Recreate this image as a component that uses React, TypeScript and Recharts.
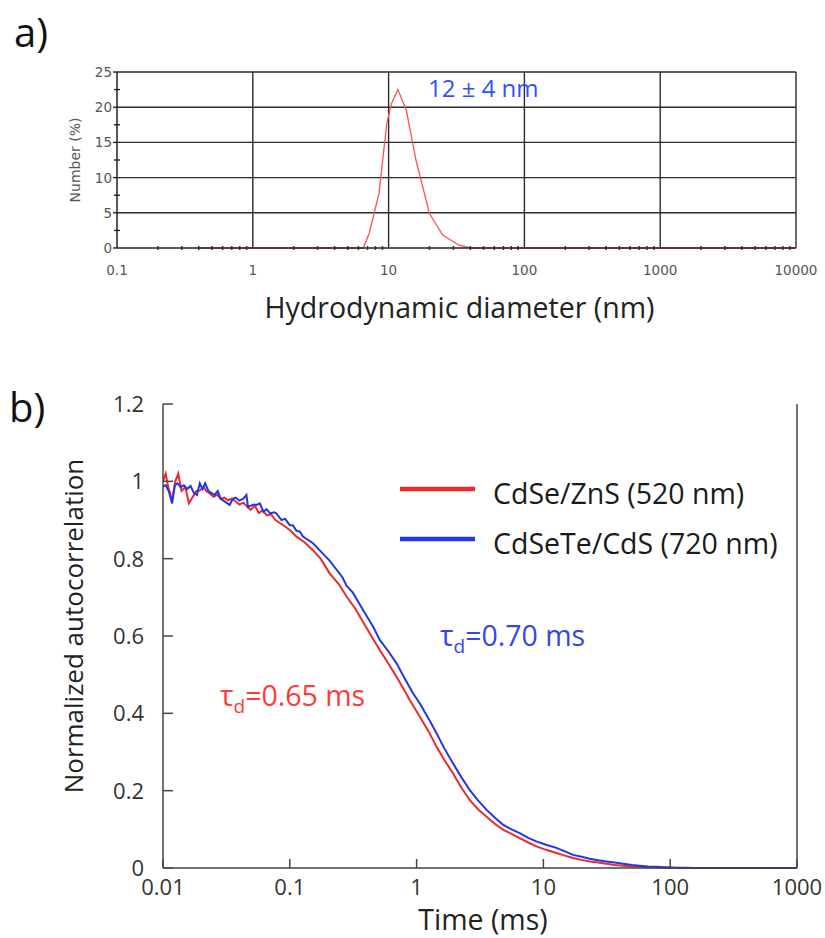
import React from 'react';
import { LineChart, Line, XAxis, YAxis, ReferenceLine, Legend } from 'recharts';

// ---------- Panel a) : DLS size distribution ----------
const sizeDiameters = [0.4, 6.5, 7.2, 8.5, 9.7, 10.5, 11.7, 13.5, 15.9, 20, 25, 33, 40, 10000];
const sizeNumbers = [0, 0, 2.1, 7.8, 17.7, 20.5, 22.5, 19.6, 12.5, 4.9, 1.85, 0.4, 0, 0];
const diamDecades = [0.1, 1, 10, 100, 1000, 10000];
const diamLabels = ['0.1', '1', '10', '100', '1000', '10000'];
const minorMultipliers = [2, 3, 4, 5, 6, 7, 8, 9];
const numberTicks = [0, 2.5, 5, 7.5, 10, 12.5, 15, 17.5, 20, 22.5, 25];
const numberMajor = [0, 5, 10, 15, 20, 25];
const numberGrid = [5, 10, 15, 20, 25];
const diamGrid = [1, 10, 100, 1000, 10000];

// ---------- Panel b) : FCS autocorrelation ----------
const redTimes = [
  0.01, 0.0105, 0.011, 0.0118, 0.0125, 0.0132, 0.014, 0.015, 0.016, 0.0172, 0.0183, 0.0195,
  0.0208, 0.022, 0.0235, 0.025, 0.0268, 0.0285, 0.0305, 0.0325, 0.035, 0.0375, 0.04, 0.043,
  0.046, 0.049, 0.053, 0.057, 0.061, 0.066, 0.071, 0.077, 0.083, 0.09, 0.1, 0.113, 0.13,
  0.152, 0.175, 0.206, 0.245, 0.28, 0.33, 0.378, 0.44, 0.512, 0.6, 0.693, 0.8, 0.88, 1.058,
  1.25, 1.433, 1.65, 1.936, 2.25, 2.62, 3.05, 3.55, 4.15, 4.8, 5.6, 6.5, 7.6, 8.8, 10.5,
  12.65, 14.8, 17.1, 20, 23.2, 27, 31.4, 36.5, 42.5, 50, 57.5, 67, 78, 100, 130, 1000,
];
const redValues = [
  1.0, 1.02, 0.985, 0.95, 1.0, 1.02, 0.975, 0.985, 0.943, 0.96, 0.975, 0.976,
  0.986, 0.975, 0.968, 0.96, 0.965, 0.955, 0.958, 0.951, 0.955, 0.948, 0.94, 0.945,
  0.935, 0.926, 0.937, 0.918, 0.925, 0.912, 0.915, 0.9, 0.893, 0.885, 0.874, 0.857, 0.843,
  0.822, 0.8, 0.762, 0.733, 0.702, 0.67, 0.636, 0.6, 0.564, 0.528, 0.495, 0.46, 0.435, 0.392,
  0.352, 0.314, 0.28, 0.245, 0.208, 0.176, 0.152, 0.133, 0.114, 0.099, 0.088, 0.077, 0.066, 0.056, 0.047,
  0.039, 0.032, 0.026, 0.021, 0.017, 0.014, 0.011, 0.008, 0.006, 0.004, 0.003, 0.002, 0.001, 0.0005, 0, 0,
];
const blueTimes = [
  0.01, 0.0105, 0.0111, 0.0118, 0.0124, 0.013, 0.0138, 0.0146, 0.0155, 0.0165, 0.0175, 0.0185,
  0.0195, 0.0205, 0.0215, 0.0228, 0.024, 0.0255, 0.027, 0.0285, 0.03, 0.0316, 0.0336, 0.0355,
  0.0375, 0.04, 0.043, 0.0455, 0.0468, 0.052, 0.0546, 0.058, 0.062, 0.0654, 0.07, 0.075, 0.0784,
  0.0859, 0.092, 0.0998, 0.106, 0.113, 0.12, 0.127, 0.1524, 0.18, 0.206, 0.26, 0.28, 0.3144, 0.378,
  0.4526, 0.512, 0.6, 0.693, 0.8, 0.937, 1.058, 1.25, 1.433, 1.65, 1.936, 2.25, 2.62, 3.05, 3.55,
  4.15, 4.8, 5.6, 6.5, 7.6, 8.8, 10.5, 12.65, 14.8, 17.1, 20, 23.2, 27, 31.4, 36.5, 42.5, 50,
  57.5, 67, 78, 90, 105, 130, 160, 1000,
];
const blueValues = [
  0.986, 0.99, 0.975, 0.943, 0.99, 0.995, 0.985, 0.99, 0.98, 0.988, 0.97, 0.965,
  0.995, 0.98, 0.995, 0.975, 0.97, 0.965, 0.975, 0.955, 0.95, 0.945, 0.939, 0.955,
  0.958, 0.95, 0.955, 0.965, 0.934, 0.94, 0.939, 0.943, 0.921, 0.928, 0.917, 0.92, 0.917,
  0.9, 0.903, 0.887, 0.886, 0.872, 0.87, 0.857, 0.84, 0.815, 0.795, 0.752, 0.73, 0.712, 0.667,
  0.625, 0.59, 0.56, 0.53, 0.492, 0.452, 0.426, 0.385, 0.349, 0.31, 0.271, 0.235, 0.202, 0.175, 0.151,
  0.13, 0.112, 0.1, 0.09, 0.078, 0.069, 0.06, 0.052, 0.043, 0.034, 0.029, 0.024, 0.02, 0.017, 0.014, 0.011, 0.008,
  0.006, 0.004, 0.003, 0.002, 0.001, 0.0005, 0, 0,
];
const timeTicks = [0.01, 0.1, 1, 10, 100, 1000];
const timeLabels = ['0.01', '0.1', '1', '10', '100', '1000'];
const corrTicks = [0, 0.2, 0.4, 0.6, 0.8, 1, 1.2];
const corrLabels = ['0', '0.2', '0.4', '0.6', '0.8', '1', '1.2'];
const seriesNames = ['CdSe/ZnS (520 nm)', 'CdSeTe/CdS (720 nm)'];
const seriesColors = ['#ea2a2e', '#2236e6'];

const sizeData = sizeDiameters.map((d, i) => ({ d, n: sizeNumbers[i] }));
const redData = redTimes.map((t, i) => ({ t, g: redValues[i] }));
const blueData = blueTimes.map((t, i) => ({ t, g: blueValues[i] }));
const diamTicks: number[] = diamDecades.flatMap((d, i) =>
  i < diamDecades.length - 1 ? [d, ...minorMultipliers.map((m) => +(d * m).toPrecision(3))] : [d]
);

const SMALL_FONT = "'DejaVu Sans', Verdana, sans-serif";
const MAIN_FONT = "'Open Sans', sans-serif";

const TopXTick = (props: any) => {
  const { x, y, payload } = props;
  const idx = diamDecades.indexOf(payload.value);
  if (idx >= 0) {
    return (
      <text x={x} y={y + 27} textAnchor="middle" fontFamily={SMALL_FONT} fontSize={13.5} fill="#555">
        {diamLabels[idx]}
      </text>
    );
  }
  return <line x1={x} x2={x} y1={y - 2} y2={y + 2} stroke="#333" strokeWidth={1.5} />;
};

const TopYTick = (props: any) => {
  const { x, y, payload } = props;
  const v = payload.value;
  if (numberMajor.includes(v)) {
    return (
      <g>
        <line x1={x - 4} x2={x} y1={y} y2={y} stroke="#222" strokeWidth={1.4} />
        <text x={x - 5} y={y + 5} textAnchor="end" fontFamily={SMALL_FONT} fontSize={13.5} fill="#555">
          {String(v)}
        </text>
      </g>
    );
  }
  return <line x1={x - 3} x2={x + 3} y1={y} y2={y} stroke="#222" strokeWidth={1.4} />;
};

const BottomXTick = (props: any) => {
  const { x, y, payload } = props;
  const idx = timeTicks.indexOf(payload.value);
  return (
    <g>
      <line x1={x} x2={x} y1={y} y2={y - 9} stroke="#444" strokeWidth={1.5} />
      <text x={x} y={y + 27} textAnchor="middle" fontFamily={MAIN_FONT} fontSize={22} fill="#333">
        {idx >= 0 ? timeLabels[idx] : ''}
      </text>
    </g>
  );
};

const TopAxisTick = (props: any) => {
  const { x, y } = props;
  return <line x1={x} x2={x} y1={y} y2={y + 9} stroke="#444" strokeWidth={1.5} />;
};

const LeftYTick = (props: any) => {
  const { x, y, payload } = props;
  const idx = corrTicks.indexOf(payload.value);
  return (
    <g>
      <line x1={x} x2={x + 10} y1={y} y2={y} stroke="#444" strokeWidth={1.5} />
      <text x={x - 19} y={y + 8} textAnchor="end" fontFamily={MAIN_FONT} fontSize={22} fill="#333">
        {idx >= 0 ? corrLabels[idx] : ''}
      </text>
    </g>
  );
};

const RightYTick = (props: any) => {
  const { x, y } = props;
  return <line x1={x} x2={x - 10} y1={y} y2={y} stroke="#444" strokeWidth={1.5} />;
};

const LegendContent = (props: any) => {
  const payload = props.payload || [];
  return (
    <div style={{ fontFamily: MAIN_FONT }}>
      {payload.map((entry: any, i: number) => (
        <div key={i} style={{ display: 'flex', alignItems: 'center', height: 50 }}>
          <svg width={75} height={10} style={{ flex: 'none' }}>
            <line x1={0} x2={75} y1={5} y2={5} stroke={entry.color} strokeWidth={4.5} />
          </svg>
          <span style={{ marginLeft: 18, fontSize: 28.5, color: '#1a1a1a', whiteSpace: 'nowrap', position: 'relative', top: 4 }}>
            {entry.value}
          </span>
        </div>
      ))}
    </div>
  );
};

export default function App() {
  return (
    <div
      style={{
        position: 'absolute',
        left: 0,
        top: 0,
        width: 825,
        height: 938,
        background: '#ffffff',
        fontFamily: MAIN_FONT,
        overflow: 'hidden',
      }}
    >
      <div style={{ position: 'absolute', left: 0, top: 0 }}>
        <LineChart width={825} height={330} data={sizeData} margin={{ top: 72, right: 29, bottom: 0, left: 0 }}>
          <XAxis
            dataKey="d"
            type="number"
            scale="log"
            domain={[0.1, 10000]}
            ticks={diamTicks}
            interval={0}
            allowDataOverflow
            height={82}
            tickSize={0}
            tickMargin={0}
            tick={<TopXTick />}
            axisLine={{ stroke: '#222', strokeWidth: 1.5 }}
          />
          <YAxis
            type="number"
            domain={[0, 25]}
            ticks={numberTicks}
            interval={0}
            width={117}
            tickSize={0}
            tickMargin={0}
            tick={<TopYTick />}
            axisLine={{ stroke: '#222', strokeWidth: 1.5 }}
          />
          {numberGrid.map((v) => (
            <ReferenceLine key={'h' + v} y={v} stroke="#2b2b2b" strokeWidth={1.4} />
          ))}
          {diamGrid.map((v) => (
            <ReferenceLine key={'v' + v} x={v} stroke="#2b2b2b" strokeWidth={1.4} />
          ))}
          <Line
            type="linear"
            dataKey="n"
            stroke="#ff5252"
            strokeWidth={1.3}
            dot={false}
            isAnimationActive={false}
          />
        </LineChart>
      </div>

      <div style={{ position: 'absolute', left: 0, top: 330 }}>
        <LineChart width={825} height={608} margin={{ top: 74, right: 0, bottom: 0, left: 0 }}>
          <XAxis
            dataKey="t"
            type="number"
            scale="log"
            domain={[0.01, 1000]}
            ticks={timeTicks}
            interval={0}
            allowDataOverflow
            height={70}
            tickSize={0}
            tickMargin={0}
            tick={<BottomXTick />}
            axisLine={{ stroke: '#444', strokeWidth: 1.5 }}
          />
          <XAxis
            xAxisId="top"
            orientation="top"
            dataKey="t"
            type="number"
            scale="log"
            domain={[0.01, 1000]}
            ticks={timeTicks}
            interval={0}
            allowDataOverflow
            height={0}
            tickSize={0}
            tickMargin={0}
            tick={<TopAxisTick />}
            axisLine={{ stroke: '#444', strokeWidth: 1.5 }}
          />
          <YAxis
            type="number"
            domain={[0, 1.2]}
            ticks={corrTicks}
            interval={0}
            width={163}
            tickSize={0}
            tickMargin={0}
            tick={<LeftYTick />}
            axisLine={{ stroke: '#444', strokeWidth: 1.5 }}
          />
          <YAxis
            yAxisId="right"
            orientation="right"
            type="number"
            domain={[0, 1.2]}
            ticks={corrTicks}
            interval={0}
            width={28}
            tickSize={0}
            tickMargin={0}
            tick={<RightYTick />}
            axisLine={{ stroke: '#444', strokeWidth: 1.5 }}
          />
          <Line
            data={redData}
            dataKey="g"
            name={seriesNames[0]}
            type="linear"
            stroke={seriesColors[0]}
            strokeWidth={2}
            dot={false}
            isAnimationActive={false}
          />
          <Line
            data={blueData}
            dataKey="g"
            name={seriesNames[1]}
            type="linear"
            stroke={seriesColors[1]}
            strokeWidth={2}
            dot={false}
            isAnimationActive={false}
          />
          <Legend
            layout="vertical"
            align="center"
            verticalAlign="middle"
            wrapperStyle={{ left: 400, top: 134, width: 420 }}
            content={<LegendContent />}
          />
        </LineChart>
      </div>

      <svg
        width={825}
        height={938}
        style={{ position: 'absolute', left: 0, top: 0, pointerEvents: 'none' }}
        fontFamily={MAIN_FONT}
      >
        <text x={14} y={47} fontSize={40} fill="#111">a)</text>
        <text x={9} y={422} fontSize={40} fill="#111">b)</text>
        <text x={428} y={97} fontSize={24} fill="#3050ff">12 ± 4 nm</text>
        <text x={459.5} y={318} textAnchor="middle" fontSize={28.5} fill="#222">
          Hydrodynamic diameter (nm)
        </text>
        <text
          transform="rotate(-90)"
          x={-160}
          y={80}
          textAnchor="middle"
          fontFamily={SMALL_FONT}
          fontSize={14}
          fill="#555"
        >
          Number (%)
        </text>
        <text x={483} y={930} textAnchor="middle" fontSize={28.5} fill="#222">
          Time (ms)
        </text>
        <text transform="rotate(-90)" x={-626} y={83} textAnchor="middle" fontSize={26} fill="#222">
          Normalized autocorrelation
        </text>
        <text x={440} y={646} fontSize={28.5} fill="#3346ee">
          τ<tspan fontSize={19} dy={7}>d</tspan>
          <tspan dy={-7}>=0.70 ms</tspan>
        </text>
        <text x={220} y={706} fontSize={28.5} fill="#ff3a3a">
          τ<tspan fontSize={19} dy={7}>d</tspan>
          <tspan dy={-7}>=0.65 ms</tspan>
        </text>
      </svg>
    </div>
  );
}
